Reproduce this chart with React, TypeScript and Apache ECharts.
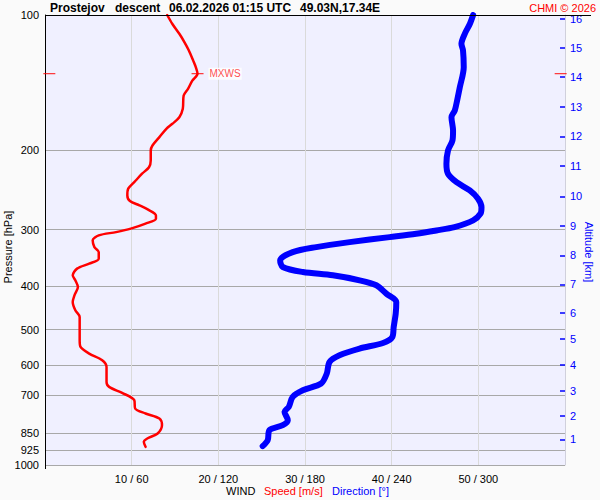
import React, { useEffect, useRef } from "react";
import * as echarts from "echarts";

// Pressure axis tick labels (hPa)
const pressureTicks = [100, 200, 300, 400, 500, 600, 700, 850, 925, 1000];
// Altitude scale (km) and the pressure level where each km mark sits
const altitudeKm = [1, 2, 3, 4, 5, 6, 7, 8, 9, 10, 11, 12, 13, 14, 15, 16];
const altitudePressure = [877.4, 778.8, 685.5, 600.1, 523.6, 459.3, 396.7, 342.0, 294.4, 253.0, 216.3, 186.2, 160.3, 137.5, 118.1, 102.0];

// Wind speed profile (m/s) vs pressure (hPa)
const speedPressure = [100, 104.7, 110.1, 115.0, 119.9, 126.3, 130.6, 135.1, 139.9, 145.9, 151.0, 161.6, 168.7, 174.5, 179.0, 186.8, 195.0, 200, 210.5, 217.9, 225.3, 235.2, 243.2, 251.7, 259.1, 264.9, 270.8, 278.8, 283.5, 290.9, 298.4, 303.7, 308.8, 316.8, 327.9, 336.4, 347.9, 356.9, 366.1, 378.9, 388.7, 402.1, 419.7, 434.2, 453.2, 468.8, 528.2, 546.6, 565.4, 585.0, 605.3, 653.6, 670.5, 691.4, 717.6, 748.9, 768.3, 788.2, 815.4, 851.1, 873.0, 888.2, 911.2];
const speedValues = [14.1, 14.7, 15.5, 16.1, 16.6, 17.1, 17.4, 17.6, 17.0, 16.5, 16.0, 15.9, 15.5, 14.7, 14.0, 13.2, 12.4, 12.2, 12.2, 12.0, 11.2, 10.3, 9.6, 9.5, 9.8, 10.9, 11.9, 12.8, 12.8, 11.6, 9.9, 8.2, 6.2, 5.5, 5.7, 6.2, 6.2, 5.1, 3.7, 3.2, 3.5, 3.8, 3.4, 3.2, 3.5, 4.0, 4.0, 4.1, 5.1, 6.6, 7.1, 7.1, 7.4, 8.9, 10.3, 10.4, 11.6, 13.2, 13.5, 13.0, 11.8, 11.4, 11.6];

// Wind direction profile (deg) vs pressure (hPa)
const dirPressure = [100, 104.7, 110.1, 115.9, 119.9, 130.6, 144.7, 154.9, 163.0, 168.7, 180.5, 190.0, 200, 214.1, 225.3, 235.2, 245.4, 256.0, 267.3, 276.4, 286.1, 296.1, 301.1, 306.2, 311.6, 319.7, 327.9, 336.4, 351.0, 363.1, 372.5, 378.9, 388.7, 398.7, 416.0, 434.2, 460.9, 493.5, 519.4, 535.6, 551.1, 570.4, 590.1, 626.2, 659.0, 681.9, 705.6, 742.7, 761.9, 794.9, 815.4, 836.5, 880.3, 907.8];
const dirValues = [296.4, 294.1, 290.6, 288.3, 289.4, 289.9, 287.2, 285.3, 283.7, 281.4, 282.5, 282.1, 279.0, 277.9, 279.0, 284.9, 294.1, 299.8, 302.2, 301.5, 296.4, 283.5, 271.0, 257.0, 238.6, 210.9, 187.8, 171.5, 162.8, 164.6, 178.5, 199.3, 217.8, 229.4, 236.3, 243.2, 242.8, 241.4, 240.5, 234.0, 217.8, 203.9, 197.0, 195.1, 191.2, 178.5, 171.5, 168.8, 165.8, 168.1, 164.6, 155.4, 154.2, 150.7];

// Maximum wind marker
const mxwsPressure = 135;
const mxwsMarks = [0.5, 17.6, 59.5];

const FONT = "'Liberation Sans', Arial, Helvetica, sans-serif";
const lg = (p: number) => Math.log10(p);

function buildOption() {
  const pMin = lg(100);
  const pMax = lg(1000);
  const altLog = altitudePressure.map(lg);
  return {
    animation: false,
    backgroundColor: "#fafafa",
    textStyle: { fontFamily: FONT },
    grid: { left: 45, right: 35, top: 15, bottom: 35, show: true, backgroundColor: "#f0f0ff", borderWidth: 0 },
    xAxis: [
      {
        type: "value", min: 0, max: 60, interval: 10, position: "bottom",
        axisLine: { show: false, onZero: false }, axisTick: { show: false },
        axisLabel: {
          fontSize: 11, color: "#000", margin: 8, fontFamily: FONT,
          formatter: (v: number) => (v === 0 || v === 60 ? "" : `${v} / ${v * 6}`),
        },
        splitLine: { show: true, lineStyle: { color: "#dadada", width: 1 } },
      },
      { type: "value", min: 0, max: 360, show: false, position: "top", axisLine: { onZero: false } },
    ],
    yAxis: [
      {
        type: "value", min: pMin, max: pMax, inverse: true, position: "left",
        axisLine: { show: true, onZero: false, lineStyle: { color: "#000", width: 1 } },
        axisTick: { show: false, customValues: pressureTicks.map(lg) },
        axisLabel: {
          customValues: pressureTicks.map(lg), fontSize: 11, color: "#000", margin: 6, fontFamily: FONT,
          formatter: (v: number) => String(Math.round(Math.pow(10, v))),
        },
        splitLine: { show: true, lineStyle: { color: "#a8a8a8", width: 1 } },
      },
      {
        type: "value", min: pMin, max: pMax, inverse: true, position: "right",
        axisLine: { show: true, onZero: false, lineStyle: { color: "#d0d0dc", width: 1 } },
        axisTick: { show: true, inside: true, length: 5, customValues: altLog, lineStyle: { color: "#0000ff", width: 1.5 } },
        axisLabel: {
          customValues: altLog, fontSize: 11, color: "#0000ff", margin: 5, fontFamily: FONT,
          formatter: (v: number) => {
            let best = 0;
            for (let i = 0; i < altLog.length; i++) {
              if (Math.abs(altLog[i] - v) < Math.abs(altLog[best] - v)) best = i;
            }
            return String(altitudeKm[best]);
          },
        },
        splitLine: { show: false },
      },
    ],
    series: [
      {
        name: "Speed", type: "line", xAxisIndex: 0, yAxisIndex: 0,
        data: speedValues.map((s, i) => [s, lg(speedPressure[i])]),
        symbol: "none", smooth: 0.3,
        lineStyle: { color: "#ff0000", width: 2.5, cap: "round", join: "round" },
        z: 3,
      },
      {
        name: "Direction", type: "line", xAxisIndex: 1, yAxisIndex: 0,
        data: dirValues.map((d, i) => [d, lg(dirPressure[i])]),
        symbol: "none", smooth: 0.3,
        lineStyle: { color: "#0000ff", width: 6, cap: "round", join: "round" },
        z: 3,
      },
      {
        name: "MXWS", type: "scatter", xAxisIndex: 0, yAxisIndex: 0, clip: false,
        symbol: "rect", symbolSize: [12, 1.2],
        itemStyle: { color: "#ff0000" },
        data: mxwsMarks.map((s, i) => ({
          value: [s, lg(mxwsPressure)],
          label: i === 1
            ? { show: true, position: "right", distance: 5, formatter: "MXWS", color: "#ff2020", fontSize: 10, fontFamily: FONT, backgroundColor: "#ffffff", padding: [1, 1] }
            : { show: false },
        })),
        z: 5,
      },
    ],
    graphic: [
      { type: "line", shape: { x1: 45, y1: 15.5, x2: 591, y2: 15.5 }, style: { stroke: "#000", lineWidth: 1 }, z: 10 },
      { type: "line", shape: { x1: 45.5, y1: 464, x2: 45.5, y2: 469 }, style: { stroke: "#000", lineWidth: 1 }, z: 10 },
      { type: "text", x: 50, y: 8, style: { text: "Prostejov", fill: "#000", fontSize: 12, fontWeight: "bold", fontFamily: FONT, verticalAlign: "middle" } },
      { type: "text", x: 115, y: 8, style: { text: "descent", fill: "#000", fontSize: 12, fontWeight: "bold", fontFamily: FONT, verticalAlign: "middle" } },
      { type: "text", x: 169, y: 8, style: { text: "06.02.2026 01:15 UTC", fill: "#000", fontSize: 12, fontWeight: "bold", fontFamily: FONT, verticalAlign: "middle" } },
      { type: "text", x: 300, y: 8, style: { text: "49.03N,17.34E", fill: "#000", fontSize: 12, fontWeight: "bold", fontFamily: FONT, verticalAlign: "middle" } },
      { type: "text", x: 596, y: 8, style: { text: "CHMI © 2026", fill: "#ff0000", fontSize: 11, fontFamily: FONT, align: "right", verticalAlign: "middle" } },
      { type: "text", x: 8, y: 247, rotation: Math.PI / 2, style: { text: "Pressure [hPa]", fill: "#000", fontSize: 11, fontFamily: FONT, align: "center", verticalAlign: "middle" } },
      { type: "text", x: 589, y: 252, rotation: -Math.PI / 2, style: { text: "Altitude [km]", fill: "#0000ff", fontSize: 11, fontFamily: FONT, align: "center", verticalAlign: "middle" } },
      { type: "text", x: 226, y: 491, style: { text: "WIND", fill: "#000", fontSize: 11, fontFamily: FONT, verticalAlign: "middle" } },
      { type: "text", x: 264, y: 491, style: { text: "Speed [m/s]", fill: "#ff0000", fontSize: 11, fontFamily: FONT, verticalAlign: "middle" } },
      { type: "text", x: 332, y: 491, style: { text: "Direction [°]", fill: "#0000ff", fontSize: 11, fontFamily: FONT, verticalAlign: "middle" } },
    ],
  };
}

export default function App() {
  const ref = useRef<HTMLDivElement>(null);
  useEffect(() => {
    if (!ref.current) return;
    const chart = echarts.init(ref.current, null, { renderer: "svg" });
    chart.setOption(buildOption() as any);
    return () => chart.dispose();
  }, []);
  return <div ref={ref} style={{ position: "absolute", left: 0, top: 0, width: 600, height: 500 }} />;
}
